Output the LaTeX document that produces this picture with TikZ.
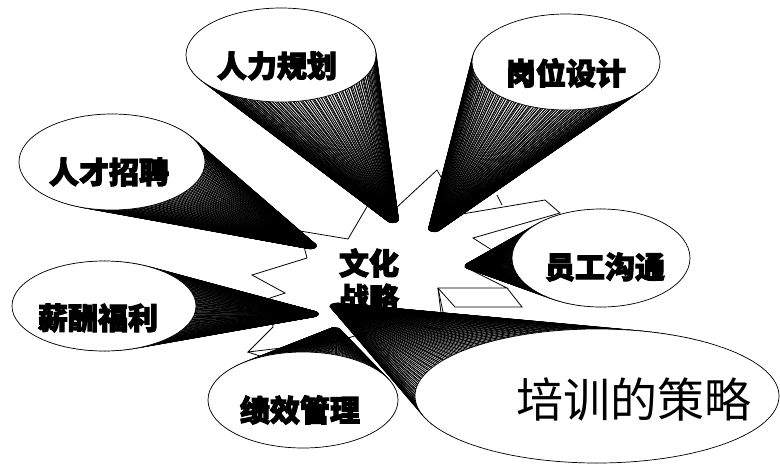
\documentclass[tikz,border=0pt]{standalone}
\usepackage{fontspec}
\newfontfamily\cjk{Noto Sans CJK SC}
\newfontfamily\cjkh{Noto Sans CJK SC}[FakeBold=3.5]
\usetikzlibrary{calc}
\newcommand\conefan[6]{% #1 centre, #2 apex, #3 rx, #4 ry, #5 tip rx, #6 tip ry
  \foreach \ang in {0,2.5,...,357.5}{%
    \draw[ray] ($(#1)+(\ang:#3pt and #4pt)$) -- ($(#2)+(\ang:#5pt and #6pt)$);}
  \fill (#2) ellipse [x radius=#5pt, y radius=#6pt];
  \draw[bubble] (#1) ellipse [x radius=#3pt, y radius=#4pt];
}
\begin{document}
\begin{tikzpicture}[x=1pt,y=-1pt,
  bubble/.style={draw,fill=white,line width=0.7pt},
  ray/.style={line width=0.75pt},
  starline/.style={line width=0.8pt},
  lbl/.style={font=\cjkh\bfseries\fontsize{30}{34}\selectfont,inner sep=0pt},
  biglbl/.style={font=\cjk\fontsize{47}{52}\selectfont,inner sep=0pt}]
\useasboundingbox[fill=white] (0,0) rectangle (780,464);

% central burst
\draw[starline,fill=white,line join=miter]
  (437,170) -- (462,214) -- (545,200) -- (560,213) -- (473,238) -- (495,252)
  -- (465,267) -- (507,288) -- (438,288) -- (443,330) -- (400,322) -- (335,342)
  -- (290,347) -- (248,352) -- (273,327) -- (270,298) -- (285,293) -- (252,275)
  -- (307,258) -- (300,231) -- (348,239) -- (378,188) -- (396,208) -- cycle;
\draw[starline] (438,288) -- (455,307) -- (522,307) -- (507,288);
\draw[starline] (438,288) -- (443,312);
\draw[starline] (497,195) -- (502,205);
\draw[starline] (248,352) -- (263,357);

\node[lbl] (cA) at (369,263) {文化};
\node[lbl] (cB) at (369,298) {战略};

% centres and apexes
\coordinate (c1) at (281,55);  \coordinate (a1) at (393,220);
\coordinate (c2) at (566,62);  \coordinate (a2) at (434,229);
\coordinate (c3) at (112,162); \coordinate (a3) at (311,246);
\coordinate (c4) at (601,258); \coordinate (a4) at (470,266);
\coordinate (c5) at (104,306); \coordinate (a5) at (313,314);
\coordinate (c6) at (303,400); \coordinate (a6) at (335,330);
\coordinate (c7) at (597,396); \coordinate (a7) at (337,306);

\conefan{c1}{a1}{95}{47}{5.5}{2.8}
\node[lbl] (t1) at (277,66) {人力规划};
\conefan{c2}{a2}{94}{48}{5.5}{2.8}
\node[lbl] (t2) at (566,73) {岗位设计};
\conefan{c3}{a3}{93}{48}{5.5}{2.8}
\node[lbl] (t3) at (109,172) {人才招聘};
\conefan{c4}{a4}{89}{49}{5}{2.8}
\node[lbl] (t4) at (605,267) {员工沟通};
\conefan{c5}{a5}{92}{45}{5.5}{2.7}
\node[lbl] (t5) at (98,318) {薪酬福利};
\conefan{c6}{a6}{95}{48}{5}{2.5}
\node[lbl] (t6) at (300,410) {绩效管理};
\conefan{c7}{a7}{182}{67}{7}{2.8}
\node[biglbl] (t7) at (634,400) {培训的策略};
\end{tikzpicture}
\end{document}
